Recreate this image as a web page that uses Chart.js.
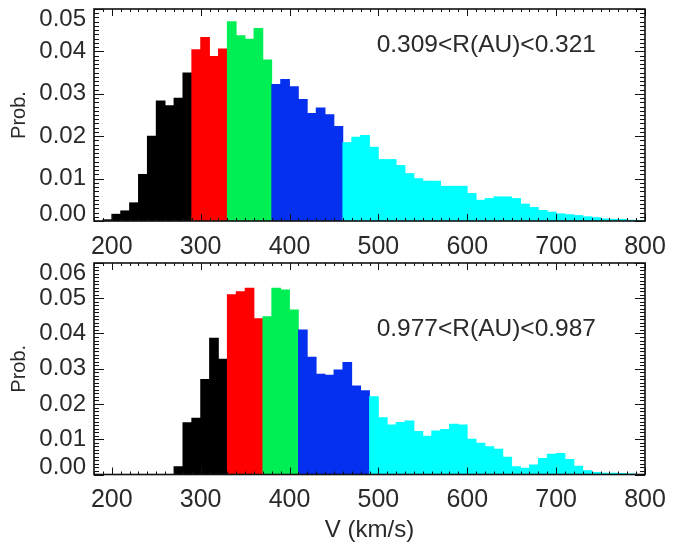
<!DOCTYPE html>
<html><head><meta charset="utf-8">
<script src="https://cdn.jsdelivr.net/npm/chart.js@4/dist/chart.umd.min.js"></script>
<style>
html,body{margin:0;padding:0;background:#fff;width:694px;height:542px;overflow:hidden}
canvas{position:absolute;left:0}
#c1{top:0}
#c2{top:258px}
</style></head><body>
<canvas id="c1" width="694" height="258" style="width:694px;height:258px"></canvas>
<canvas id="c2" width="694" height="284" style="width:694px;height:284px"></canvas>
<script>
// ---------------- data ----------------
const binWidth = 10;                       // km/s
const xTickValues = [200, 300, 400, 500, 600, 700, 800];
const xTickLabels = ['200', '300', '400', '500', '600', '700', '800'];

// top panel : 0.309 < R(AU) < 0.321
const topBinStart = 190;
const topProb = [
  0.0003, 0.0016, 0.0024, 0.0043, 0.0110, 0.0200, 0.0283, 0.0272, 0.0290, 0.0349,
  0.0404, 0.0433, 0.0388, 0.0406,
  0.0470, 0.0437, 0.0429, 0.0454, 0.0380,
  0.0322, 0.0334, 0.0317, 0.0287, 0.0254, 0.0267, 0.0251, 0.0223,
  0.0185, 0.0198, 0.0202, 0.0174, 0.0145, 0.0145, 0.0131, 0.0112, 0.0100, 0.0094,
  0.0094, 0.0082, 0.0082, 0.0082, 0.0065, 0.0049, 0.0053, 0.0057, 0.0057, 0.0053,
  0.0040, 0.0032, 0.0025, 0.0021, 0.0017, 0.0015, 0.0013, 0.0010, 0.0008, 0.0005,
  0.0004, 0.0004, 0.0002, 0.0001
];
const topColourEdges = [290, 330, 380, 460];
const topYTickValues = [0, 0.01, 0.02, 0.03, 0.04, 0.05];
const topYTickLabels = ['0.00', '0.01', '0.02', '0.03', '0.04', '0.05'];
const topLabel = '0.309<R(AU)<0.321';

// bottom panel : 0.977 < R(AU) < 0.987
const botBinStart = 270;
const botProb = [
  0.0022, 0.0147, 0.0160, 0.0270, 0.0387, 0.0327,
  0.0510, 0.0519, 0.0529, 0.0442,
  0.0448, 0.0529, 0.0524, 0.0467,
  0.0410, 0.0333, 0.0285, 0.0282, 0.0297, 0.0318, 0.0251, 0.0238,
  0.0221, 0.0161, 0.0141, 0.0148, 0.0152, 0.0122, 0.0109, 0.0124, 0.0128, 0.0143,
  0.0141, 0.0100, 0.0089, 0.0079, 0.0072, 0.0049, 0.0022, 0.0018, 0.0027, 0.0046,
  0.0058, 0.0060, 0.0043, 0.0024, 0.0011, 0.0006, 0.0004, 0.0004, 0.0003, 0.0002
];
const botColourEdges = [330, 370, 410, 490];
const botYTickValues = [0, 0.01, 0.02, 0.03, 0.04, 0.05, 0.06];
const botYTickLabels = ['0.00', '0.01', '0.02', '0.03', '0.04', '0.05', '0.06'];
const botLabel = '0.977<R(AU)<0.987';

const segColours = ['#000000', '#ff0000', '#00ef55', '#0530ef', '#00ffff'];
// --------------------------------------

const FONT = '"Liberation Sans", Arial, sans-serif';
const TXT = '#2a2a2a';

function histData(start, probs) {
  return probs.map((p, i) => ({ x: start + i * binWidth + binWidth / 2, y: p }));
}
function colourFor(edges) {
  return (ctx) => {
    const v = ctx.raw ? ctx.raw.x : 0;
    let k = 0;
    while (k < edges.length && v > edges[k]) k++;
    return segColours[k];
  };
}

const frameTicks = {
  id: 'frameTicks',
  afterDraw(chart, args, o) {
    const { ctx, chartArea: a, scales: { x, y } } = chart;
    ctx.save();
    ctx.strokeStyle = '#111';
    ctx.lineWidth = 1;
    ctx.beginPath();
    for (let v = Math.ceil(x.min / binWidth) * binWidth; v <= x.max; v += binWidth) {
      const px = Math.round(x.getPixelForValue(v)) + 0.5;
      const major = xTickValues.includes(v);
      const L = major ? 7 : 3;
      ctx.moveTo(px, a.bottom); ctx.lineTo(px, a.bottom - L);
      ctx.moveTo(px, a.top); ctx.lineTo(px, a.top + L);
    }
    const yMinor = 0.001;
    const n = Math.round(y.max / yMinor);
    for (let i = 0; i <= n; i++) {
      const v = i * yMinor;
      const py = Math.round(y.getPixelForValue(v)) + 0.5;
      const L = (i % 10 === 0) ? 10 : 5;
      ctx.moveTo(a.left, py); ctx.lineTo(a.left + L, py);
      ctx.moveTo(a.right, py); ctx.lineTo(a.right - L, py);
    }
    ctx.stroke();
    ctx.lineWidth = 1.6;
    ctx.strokeRect(a.left, a.top, a.right - a.left, a.bottom - a.top);
    ctx.fillStyle = TXT;
    ctx.font = '24px ' + FONT;
    ctx.textAlign = 'right';
    ctx.textBaseline = 'middle';
    o.yValues.forEach((v, i) => {
      let py = y.getPixelForValue(v);
      py = Math.min(Math.max(py, a.top + 10), a.bottom - 7);
      ctx.fillText(o.yLabels[i], a.left - 8, py);
    });
    ctx.font = '24.5px ' + FONT;
    ctx.textAlign = 'left';
    ctx.fillText(o.label, a.left + o.lx * (a.right - a.left), a.top + o.ly * (a.bottom - a.top));
    ctx.restore();
  }
};

function makeChart(id, start, probs, edges, yMax, yVals, yLabs, label, ly, padTop, xHeight, showXTitle) {
  return new Chart(document.getElementById(id), {
    type: 'bar',
    data: {
      datasets: [{
        data: histData(start, probs),
        backgroundColor: colourFor(edges),
        borderWidth: 0,
        barPercentage: 1.0,
        categoryPercentage: 1.0,
        inflateAmount: 0.4
      }]
    },
    options: {
      responsive: false,
      animation: false,
      devicePixelRatio: 1,
      layout: { padding: { left: 0, right: 49, top: padTop, bottom: 0 } },
      plugins: {
        legend: { display: false },
        tooltip: { enabled: false },
        frameTicks: { yValues: yVals, yLabels: yLabs, label: label, lx: 0.513, ly: ly }
      },
      scales: {
        x: {
          type: 'linear',
          min: 180, max: 800,
          offset: false,
          grid: { display: false, drawTicks: false },
          border: { display: false },
          afterBuildTicks: (s) => { s.ticks = xTickValues.map(v => ({ value: v })); },
          afterFit: (s) => { s.height = xHeight; },
          ticks: {
            padding: 11,
            maxRotation: 0,
            autoSkip: false,
            color: TXT,
            font: { family: FONT, size: 25 },
            callback: (v, i) => xTickLabels[i]
          },
          title: {
            display: showXTitle,
            text: 'V (km/s)',
            color: TXT,
            font: { family: FONT, size: 24, lineHeight: 1.0 },
            padding: { top: 0, bottom: 0 }
          }
        },
        y: {
          type: 'linear',
          min: 0, max: yMax,
          grid: { display: false, drawTicks: false },
          border: { display: false },
          afterBuildTicks: (s) => { s.ticks = yVals.map(v => ({ value: v })); },
          afterFit: (s) => { s.width = 94; },
          ticks: { display: false },
          title: {
            display: true,
            text: 'Prob.',
            color: TXT,
            font: { family: FONT, size: 20, lineHeight: 1.2 },
            padding: { top: 7, bottom: 0 }
          }
        }
      }
    },
    plugins: [frameTicks]
  });
}

makeChart('c1', topBinStart, topProb, topColourEdges, 0.05, topYTickValues, topYTickLabels,
  topLabel, 0.17, 9, 37, false);
makeChart('c2', botBinStart, botProb, botColourEdges, 0.06, botYTickValues, botYTickLabels,
  botLabel, 0.312, 5, 67.5, true);
</script>
</body></html>
